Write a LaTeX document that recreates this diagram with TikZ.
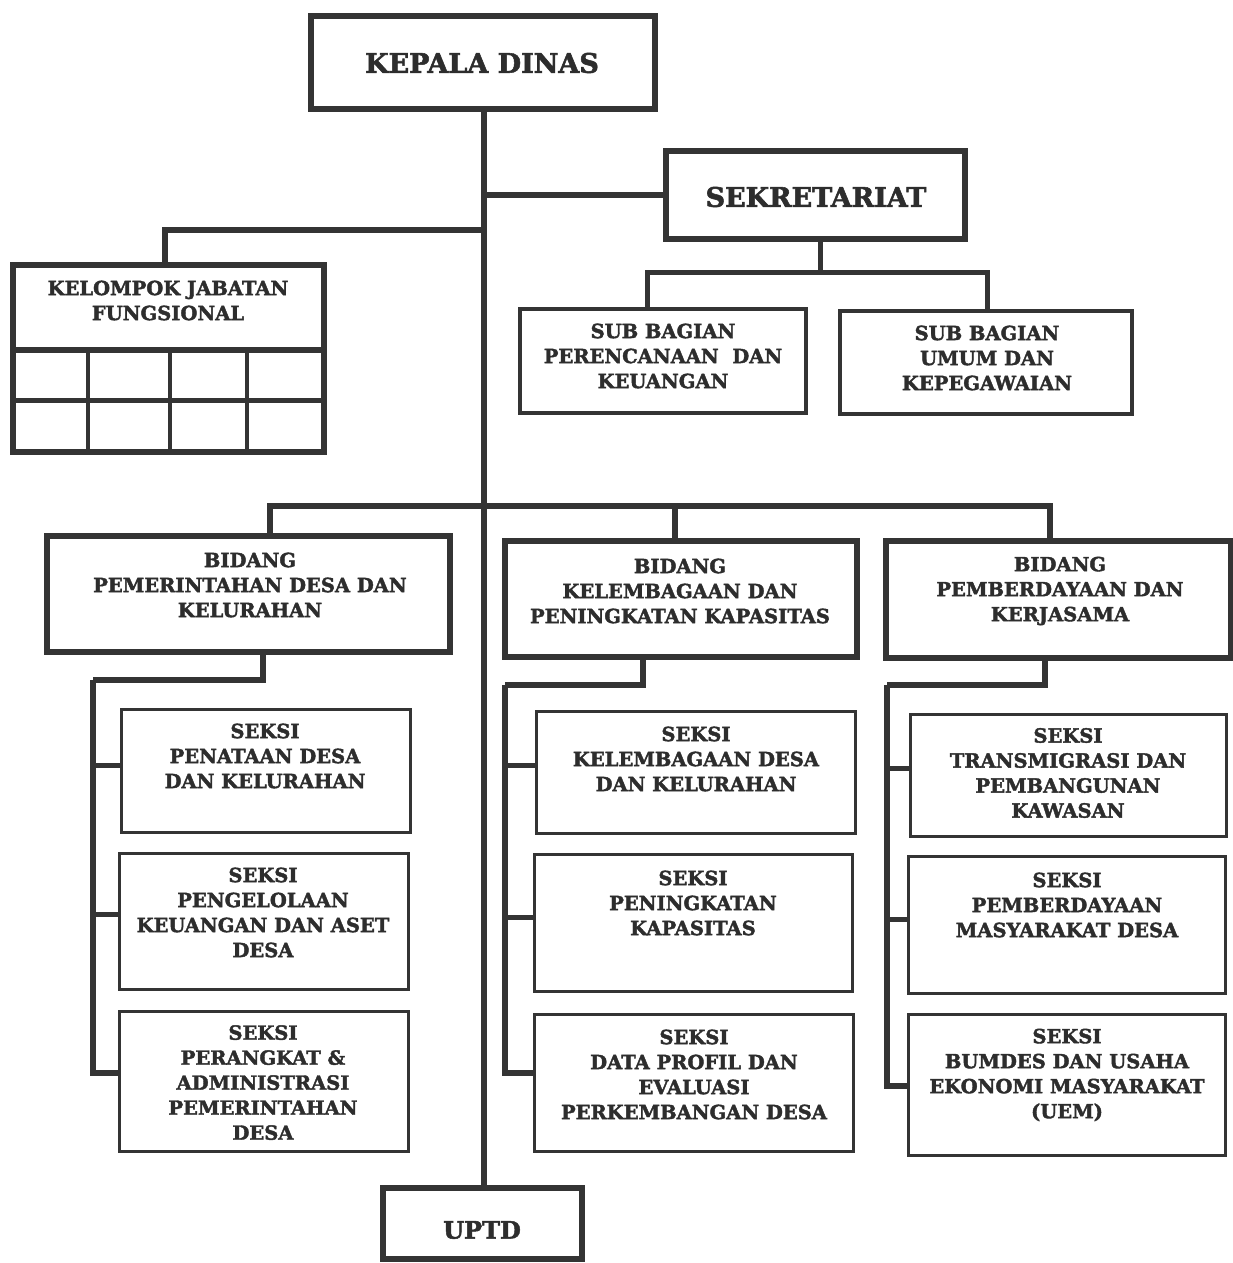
\documentclass[tikz,border=0pt]{standalone}
\usepackage{fontspec}
\setmainfont{DejaVu Serif}[BoldFeatures={FakeBold=2}]
\definecolor{lc}{RGB}{52,52,52}
\definecolor{tc}{RGB}{45,45,45}
\newcommand\orgbox[7]{%
  \node[box, line width=#7pt, minimum width={#5-#3-#7}, minimum height={#6-#4-#7}] (#2) at ({(#3+#5)/2},{(#4+#6)/2}) {};}
\begin{document}
\begin{tikzpicture}[x=1pt,y=-1pt,
  box/.style={draw=lc, rectangle, inner sep=0pt, fill=white},
  conn/.style={draw=lc, line width=6pt},
  conn2/.style={draw=lc, line width=5pt},
  grid/.style={draw=lc},
  lbl/.style={text=tc, font=\bfseries\fontsize{19.5}{25}\selectfont, align=center, inner sep=0pt},
  biglbl/.style={text=tc, font=\bfseries\fontsize{27}{32}\selectfont, inner sep=0pt},
  midlbl/.style={text=tc, font=\bfseries\fontsize{24}{28}\selectfont, inner sep=0pt},
]
\useasboundingbox[fill=white] (0,0) rectangle (1232,1263);

% boxes
\orgbox{box}{kepala}{308}{13}{658}{112}{6}
\orgbox{box}{sekr}{663}{148}{968}{242}{6}
\orgbox{box}{sbp}{518}{307}{808}{415}{4}
\orgbox{box}{sbu}{838}{309}{1134}{416}{4}
\orgbox{box}{kel}{10}{262}{327}{455}{6}
\orgbox{box}{bid1}{44}{533}{453}{655}{6}
\orgbox{box}{bid2}{502}{538}{860}{660}{6}
\orgbox{box}{bid3}{883}{538}{1234}{661}{6}
\orgbox{box}{s11}{120}{708}{412}{834}{2.7}
\orgbox{box}{s12}{118}{852}{410}{991}{2.7}
\orgbox{box}{s13}{118}{1010}{410}{1153}{2.7}
\orgbox{box}{s21}{535}{710}{857}{835}{2.7}
\orgbox{box}{s22}{533}{853}{854}{993}{2.7}
\orgbox{box}{s23}{533}{1013}{855}{1153}{2.7}
\orgbox{box}{s31}{909}{713}{1228}{838}{2.7}
\orgbox{box}{s32}{907}{855}{1227}{995}{2.7}
\orgbox{box}{s33}{907}{1013}{1227}{1157}{2.7}
\orgbox{box}{uptd}{380}{1185}{585}{1262}{6}

% kelompok grid
\draw[grid, line width=6pt] (kel.west |- 0,350) -- (kel.east |- 0,350);
\draw[grid, line width=5pt] (kel.west |- 0,400) -- (kel.east |- 0,400);
\draw[grid, line width=3.2pt] (88,350) -- (88,455) (170,350) -- (170,455) (247,350) -- (247,455);

% junction coordinates
\coordinate (kj) at (484,230);
\coordinate (sj) at (820,272);
\coordinate (bj) at (484,506);
\coordinate (c1) at (93,680);
\coordinate (c2) at (505,685);
\coordinate (c3) at (887,685);
\coordinate (b1top) at ([xshift=21.5pt]bid1.north);
\coordinate (b2top) at ([xshift=-6pt]bid2.north);
\coordinate (b3top) at ([xshift=-8.5pt]bid3.north);

% connectors
\draw[conn] (kepala.south -| kj) -- (uptd.north -| kj);
\draw[conn] (sekr.west) -- (sekr.west -| kj);
\draw[conn] ([xshift=-3.5pt]kel.north) |- (kj);
\draw[conn2] (sj |- sekr.south) -- (sj);
\draw[conn2] ([xshift=-16pt]sbp.north) |- (sj) -| ([xshift=1pt]sbu.north);
\draw[conn] (b1top) |- (b3top |- bj) -- (b3top);
\draw[conn] (b2top |- bj) -- (b2top);

\draw[conn] ([xshift=14.5pt]bid1.south) |- (c1);
\draw[conn2] ([yshift=6pt]s11.west) -| (c1);
\draw[conn2] ([yshift=7.5pt]s12.west) -| (c1);
\draw[conn] ([yshift=8.5pt]s13.west) -| (c1);

\draw[conn] ([xshift=-38pt]bid2.south) |- (c2);
\draw[conn2] ([yshift=7.5pt]s21.west) -| (c2);
\draw[conn2] ([yshift=6pt]s22.west) -| (c2);
\draw[conn] ([yshift=10pt]s23.west) -| (c2);

\draw[conn] ([xshift=-13.5pt]bid3.south) |- (c3);
\draw[conn2] ([yshift=7.5pt]s31.west) -| (c3);
\draw[conn2] ([yshift=6pt]s32.west) -| (c3);
\draw[conn] ([yshift=-1pt]s33.west) -| (c3);

% labels
\node[biglbl] (kepalaT) at (482,63) {KEPALA DINAS};
\node[biglbl] (sekrT) at (816,197) {SEKRETARIAT};
\node[lbl] (sbpT) at (663,356) {SUB BAGIAN\\PERENCANAAN~~DAN\\KEUANGAN};
\node[lbl] (sbuT) at (987,358) {SUB BAGIAN\\UMUM DAN\\KEPEGAWAIAN};
\node[lbl] (kelT) at (168,300.5) {KELOMPOK JABATAN\\FUNGSIONAL};
\node[lbl] (bid1T) at (250,585) {BIDANG\\PEMERINTAHAN DESA DAN\\KELURAHAN};
\node[lbl] (bid2T) at (680,591) {BIDANG\\KELEMBAGAAN DAN\\PENINGKATAN KAPASITAS};
\node[lbl] (bid3T) at (1060,591) {BIDANG\\PEMBERDAYAAN DAN\\KERJASAMA};
\node[lbl] (s11T) at (265,756) {SEKSI\\PENATAAN DESA\\DAN KELURAHAN};
\node[lbl] (s12T) at (263,912.5) {SEKSI\\PENGELOLAAN\\KEUANGAN DAN ASET\\DESA};
\node[lbl] (s13T) at (263,1082.6) {SEKSI\\PERANGKAT \&\\ADMINISTRASI\\PEMERINTAHAN\\DESA};
\node[lbl] (s21T) at (696,759) {SEKSI\\KELEMBAGAAN DESA\\DAN KELURAHAN};
\node[lbl] (s22T) at (693,903) {SEKSI\\PENINGKATAN\\KAPASITAS};
\node[lbl] (s23T) at (694,1074.5) {SEKSI\\DATA PROFIL DAN\\EVALUASI\\PERKEMBANGAN DESA};
\node[lbl] (s31T) at (1068,773) {SEKSI\\TRANSMIGRASI DAN\\PEMBANGUNAN\\KAWASAN};
\node[lbl] (s32T) at (1067,905) {SEKSI\\PEMBERDAYAAN\\MASYARAKAT DESA};
\node[lbl] (s33T) at (1067,1075) {SEKSI\\BUMDES DAN USAHA\\EKONOMI MASYARAKAT\\(UEM)};
\node[midlbl] (uptdT) at (482,1230) {UPTD};
\end{tikzpicture}
\end{document}
